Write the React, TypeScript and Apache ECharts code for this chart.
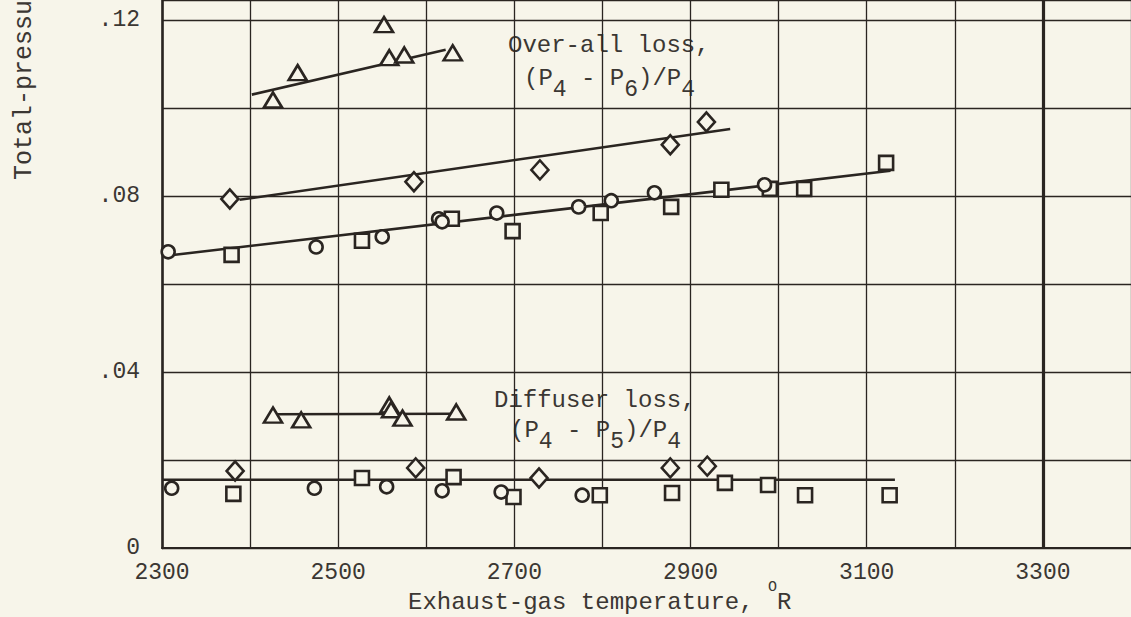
import React, { useEffect, useRef } from "react";
import * as echarts from "echarts";

// ---- data ----
const xTickLabels = [2300, 2500, 2700, 2900, 3100, 3300];
const yTickLabels = [0, 0.04, 0.08, 0.12];

// Over-all loss (P4 - P6)/P4
const ovTriX = [2426, 2454, 2552, 2558, 2575, 2630];
const ovTriY = [0.1018, 0.108, 0.1189, 0.1114, 0.112, 0.1125];
const ovDiaX = [2377, 2586, 2729, 2877, 2918];
const ovDiaY = [0.0793, 0.0832, 0.0859, 0.0916, 0.0968];
const ovCirX = [2307, 2475, 2550, 2614, 2618, 2680, 2773, 2810, 2859, 2984];
const ovCirY = [0.0673, 0.0684, 0.0707, 0.0748, 0.0741, 0.0761, 0.0775, 0.0789, 0.0807, 0.0825];
const ovSqX = [2379, 2527, 2629, 2698, 2798, 2878, 2935, 2990, 3029, 3122];
const ovSqY = [0.0666, 0.0698, 0.0748, 0.072, 0.0761, 0.0775, 0.0814, 0.0816, 0.0816, 0.0875];

const ovTriFitX = [2402, 2622];
const ovTriFitY = [0.103, 0.1132];
const ovDiaFitX = [2388, 2945];
const ovDiaFitY = [0.0791, 0.0952];
const ovCirFitX = [2305, 3127];
const ovCirFitY = [0.0664, 0.0857];

// Diffuser loss (P4 - P5)/P4
const dfTriX = [2426, 2458, 2558, 2560, 2573, 2634];
const dfTriY = [0.0302, 0.0291, 0.0325, 0.0314, 0.0295, 0.0309];
const dfDiaX = [2383, 2588, 2728, 2877, 2919];
const dfDiaY = [0.0175, 0.0182, 0.0159, 0.0182, 0.0186];
const dfCirX = [2311, 2473, 2555, 2618, 2685, 2777];
const dfCirY = [0.0136, 0.0136, 0.0139, 0.013, 0.0127, 0.012];
const dfSqX = [2381, 2527, 2631, 2699, 2797, 2879, 2939, 2988, 3030, 3126];
const dfSqY = [0.0123, 0.0159, 0.0161, 0.0116, 0.012, 0.0125, 0.0148, 0.0143, 0.012, 0.012];

const dfTriFitX = [2426, 2634];
const dfTriFitY = [0.0304, 0.0305];
const dfFitX = [2300, 3132];
const dfFitY = [0.0155, 0.0155];

const zip = (xs: number[], ys: number[]) => xs.map((x, i) => [x, ys[i]]);

const BG = "#f7f5ea";
const INK = "#2a2521";
const TXT = "#3b3733";
const FONT = "'Liberation Mono', 'DejaVu Sans Mono', monospace";

export default function App() {
  const ref = useRef<HTMLDivElement>(null);
  useEffect(() => {
    if (!ref.current) return;
    const chart = echarts.init(ref.current, null, { renderer: "svg" });

    const marker = (name: string, symbol: string, size: any, xs: number[], ys: number[]) => ({
      name,
      type: "scatter",
      symbol,
      symbolSize: size,
      data: zip(xs, ys),
      itemStyle: { color: BG, borderColor: INK, borderWidth: 2.6, opacity: 1 },
      z: 5,
      silent: true,
    });
    const fit = (name: string, xs: number[], ys: number[], extra: any = {}) => ({
      name,
      type: "line",
      data: zip(xs, ys),
      showSymbol: false,
      symbol: "none",
      lineStyle: { color: INK, width: 2.6 },
      z: 3,
      silent: true,
      ...extra,
    });

    const main = { fontFamily: FONT, fontSize: 24, lineHeight: 24, color: TXT, verticalAlign: "top" };
    const sub = {
      fontFamily: FONT,
      fontSize: 23,
      lineHeight: 23,
      color: TXT,
      verticalAlign: "top",
      padding: [12, 0, 0, 0],
    };

    const textStyle = (text: string, extra: any = {}) => ({
      text,
      font: `24px ${FONT}`,
      fill: TXT,
      align: "left",
      textAlign: "left",
      verticalAlign: "top",
      textVerticalAlign: "top",
      ...extra,
    });

    chart.setOption({
      animation: false,
      backgroundColor: BG,
      grid: { left: 162, right: 0, top: 0, bottom: 69, containLabel: false },
      xAxis: {
        type: "value",
        min: 2300,
        max: 3400,
        interval: 100,
        axisLine: { show: true, lineStyle: { color: INK, width: 2 } },
        axisTick: { show: false },
        splitLine: { show: true, lineStyle: { color: INK, width: 1.3 } },
        axisLabel: {
          margin: 13,
          fontFamily: FONT,
          fontSize: 23,
          color: TXT,
          formatter: (v: number) => (xTickLabels.indexOf(Math.round(v)) >= 0 ? String(Math.round(v)) : ""),
        },
      },
      yAxis: {
        type: "value",
        min: 0,
        max: 0.1245,
        interval: 0.02,
        axisLine: { show: true, lineStyle: { color: INK, width: 2.6 } },
        axisTick: { show: false },
        splitLine: { show: true, lineStyle: { color: INK, width: 1.3 } },
        axisLabel: {
          margin: 22,
          fontFamily: FONT,
          fontSize: 23,
          color: TXT,
          formatter: (v: number) => {
            const hit = yTickLabels.find((t) => Math.abs(t - v) < 1e-6);
            if (hit === undefined) return "";
            if (hit === 0) return "0";
            return "." + String(Math.round(hit * 100)).padStart(2, "0");
          },
        },
      },
      series: [
        fit("ovTriFit", ovTriFitX, ovTriFitY),
        fit("ovDiaFit", ovDiaFitX, ovDiaFitY),
        fit("ovCirFit", ovCirFitX, ovCirFitY),
        fit("dfTriFit", dfTriFitX, dfTriFitY),
        fit("dfFit", dfFitX, dfFitY, {
          markLine: {
            silent: true,
            symbol: "none",
            label: { show: false },
            lineStyle: { color: INK, width: 3.2, type: "solid" },
            data: [{ xAxis: 3300 }],
          },
        }),
        marker("ovTri", "triangle", [18, 15], ovTriX, ovTriY),
        marker("ovSq", "rect", 14, ovSqX, ovSqY),
        marker("ovCir", "circle", 13, ovCirX, ovCirY),
        marker("ovDia", "diamond", [17, 19], ovDiaX, ovDiaY),
        marker("dfTri", "triangle", [18, 15], dfTriX, dfTriY),
        marker("dfSq", "rect", 14, dfSqX, dfSqY),
        marker("dfCir", "circle", 13, dfCirX, dfCirY),
        marker("dfDia", "diamond", [17, 19], dfDiaX, dfDiaY),
      ],
      graphic: [
        {
          type: "text",
          x: 24,
          y: 180,
          rotation: Math.PI / 2,
          style: textStyle("Total-pressure loss", {
            font: `25px ${FONT}`,
            verticalAlign: "middle",
            textVerticalAlign: "middle",
          }),
        },
        { type: "text", x: 508, y: 33, style: textStyle("Over-all loss,") },
        {
          type: "text",
          x: 524,
          y: 66,
          style: textStyle("{m|(P}{s|4}{m| - P}{s|6}{m|)/P}{s|4}", { rich: { m: main, s: sub } }),
        },
        { type: "text", x: 494, y: 388, style: textStyle("Diffuser loss,") },
        {
          type: "text",
          x: 510,
          y: 418,
          style: textStyle("{m|(P}{s|4}{m| - P}{s|5}{m|)/P}{s|4}", { rich: { m: main, s: sub } }),
        },
        {
          type: "text",
          x: 408,
          y: 580,
          style: textStyle("{t|Exhaust-gas temperature, }{o|O}{t|R}", {
            rich: {
              t: {
                fontFamily: FONT,
                fontSize: 24,
                lineHeight: 24,
                color: TXT,
                verticalAlign: "top",
                padding: [10, 0, 0, 0],
              },
              o: { fontFamily: FONT, fontSize: 15, lineHeight: 16, color: TXT, verticalAlign: "top" },
            },
          }),
        },
      ],
    });
    return () => chart.dispose();
  }, []);

  return (
    <div style={{ position: "fixed", left: 0, top: 0, width: 1131, height: 617, overflow: "hidden", background: BG }}>
      <div ref={ref} style={{ width: 1134, height: 617 }} />
    </div>
  );
}
